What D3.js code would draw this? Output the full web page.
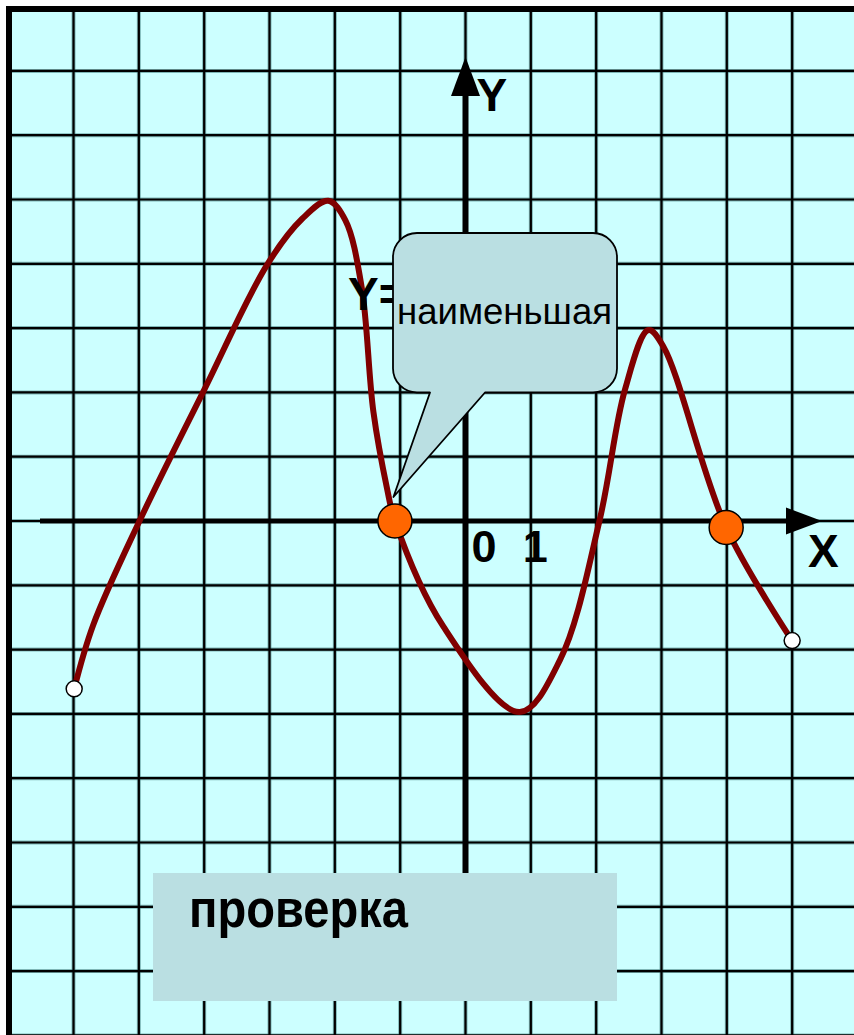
<!DOCTYPE html>
<html>
<head>
<meta charset="utf-8">
<script src="https://cdn.jsdelivr.net/npm/d3@7"></script>
<style>
  body { margin: 0; background: #fff; }
  svg { display: block; }
  text { font-family: 'Liberation Sans', Arial, sans-serif; }
</style>
</head>
<body>
<div id="chart"></div>
<script>
// curve (grid units)
const curveX = [-5.99, -5.7, -4.99, -4.0, -3.04, -2.5, -2.10, -1.84, -1.59, -1.41, -1.2, -1.08, -0.34, 0.83, 1.447, 2.05, 2.44, 2.80, 3.03, 3.99, 5.0]
const curveY = [-2.61, -1.62, 0, 2.04, 3.98, 4.7, 4.98, 4.68, 3.64, 1.7, 0.5, 0, -1.64, -2.97, -2.16, 0, 2.04, 2.97, 2.71, -0.1, -1.86]

// zeros marked with orange dots
const rootX = [-1.08, 3.99]
const rootY = [0, -0.1]

// open end points
const endX = [-5.99, 5.0]
const endY = [-2.61, -1.86]

const tickLabels = ['0', '1']
const calloutText = 'наименьшая'
const buttonText = 'проверка'

const width = 854
const height = 1035

const svg = d3.select('#chart')
  .append('svg')
  .attr('width', width)
  .attr('height', height)

// 1 grid cell = 1 unit
const xScale = d3.scaleLinear().domain([0, 1]).range([465.5, 465.5 + 65.33])
const yScale = d3.scaleLinear().domain([0, 1]).range([521, 521 - 64.3])

svg.append('rect')
  .attr('width', width)
  .attr('height', height)
  .attr('fill', '#ccffff')

/* grid */
const grid = svg.append('g').attr('class', 'grid')
const vLines = d3.range(-7, 7)
const hLines = d3.range(-8, 9)

grid.selectAll('.vhalo')
  .data(vLines)
  .enter()
  .append('line')
  .attr('x1', d => xScale(d))
  .attr('x2', d => xScale(d))
  .attr('y1', 0)
  .attr('y2', height)
  .attr('stroke', '#3f7c7c')
  .attr('stroke-width', 4)
  .attr('opacity', 0.55)

grid.selectAll('.hhalo')
  .data(hLines)
  .enter()
  .append('line')
  .attr('x1', 0)
  .attr('x2', width)
  .attr('y1', d => yScale(d))
  .attr('y2', d => yScale(d))
  .attr('stroke', '#3f7c7c')
  .attr('stroke-width', 4)
  .attr('opacity', 0.55)

grid.selectAll('.vline')
  .data(vLines)
  .enter()
  .append('line')
  .attr('x1', d => xScale(d))
  .attr('x2', d => xScale(d))
  .attr('y1', 0)
  .attr('y2', height)
  .attr('stroke', '#000')
  .attr('stroke-width', 2.2)

grid.selectAll('.hline')
  .data(hLines)
  .enter()
  .append('line')
  .attr('x1', 0)
  .attr('x2', width)
  .attr('y1', d => yScale(d))
  .attr('y2', d => yScale(d))
  .attr('stroke', '#000')
  .attr('stroke-width', 2.2)

// white margin and frame on top and left
svg.append('rect')
  .attr('width', width)
  .attr('height', 6)
  .attr('fill', '#fff')
svg.append('rect')
  .attr('width', 6)
  .attr('height', height)
  .attr('fill', '#fff')

svg.append('path')
  .attr('d', 'M9,' + height + 'V9H' + width)
  .attr('fill', 'none')
  .attr('stroke', '#000')
  .attr('stroke-width', 6)

/* axes */
const x0 = xScale(0)
const y0 = yScale(0)

svg.append('line')
  .attr('x1', 40)
  .attr('x2', 790)
  .attr('y1', y0)
  .attr('y2', y0)
  .attr('stroke', '#000')
  .attr('stroke-width', 5)

svg.append('path')
  .attr('d', 'M786,' + (y0 - 13.5) + 'L822,' + y0 + 'L786,' + (y0 + 13.5) + 'Z')
  .attr('fill', '#000')

svg.append('line')
  .attr('x1', x0)
  .attr('x2', x0)
  .attr('y1', yScale(-5.5))
  .attr('y2', 92)
  .attr('stroke', '#000')
  .attr('stroke-width', 6)

svg.append('path')
  .attr('d', 'M' + (x0 - 14.5) + ',96L' + x0 + ',57L' + (x0 + 14.5) + ',96Z')
  .attr('fill', '#000')

svg.append('text')
  .attr('x', x0 + 11)
  .attr('y', 111)
  .attr('font-size', 46)
  .attr('font-weight', 'bold')
  .text('Y')

svg.append('text')
  .attr('x', 808)
  .attr('y', 567)
  .attr('font-size', 46)
  .attr('font-weight', 'bold')
  .text('X')

svg.selectAll('.tick-label')
  .data(tickLabels)
  .enter()
  .append('text')
  .attr('class', 'tick-label')
  .attr('x', (d, i) => i === 0 ? x0 + 6 : xScale(+d) - 8)
  .attr('y', 562)
  .attr('font-size', 45)
  .attr('font-weight', 'bold')
  .text(d => d)

/* the function */
const points = curveX.map((d, i) => [d, curveY[i]])

const line = d3.line()
  .x(d => xScale(d[0]))
  .y(d => yScale(d[1]))
  .curve(d3.curveCatmullRom.alpha(0.5))

svg.append('path')
  .datum(points)
  .attr('d', line)
  .attr('fill', 'none')
  .attr('stroke', '#800000')
  .attr('stroke-width', 6)
  .attr('stroke-linejoin', 'round')

svg.selectAll('.end')
  .data(endX)
  .enter()
  .append('circle')
  .attr('class', 'end')
  .attr('cx', d => xScale(d))
  .attr('cy', (d, i) => yScale(endY[i]))
  .attr('r', 8)
  .attr('fill', '#fff')
  .attr('stroke', '#000')
  .attr('stroke-width', 1.5)

svg.selectAll('.root')
  .data(rootX)
  .enter()
  .append('circle')
  .attr('class', 'root')
  .attr('cx', d => xScale(d))
  .attr('cy', (d, i) => yScale(rootY[i]))
  .attr('r', 17)
  .attr('fill', '#ff6600')
  .attr('stroke', '#000')
  .attr('stroke-width', 1.5)

// partly hidden "Y=" behind the callout
svg.append('text')
  .attr('x', 348)
  .attr('y', 310)
  .attr('font-size', 46)
  .attr('font-weight', 'bold')
  .text('Y=')

/* callout pointing at the first zero */
const bx0 = 393
const bx1 = 617
const by0 = 233
const by1 = 392.5
const r = 24
const tipX = xScale(rootX[0]) - 1.5
const tipY = y0 - 24

const callout = d3.path()
callout.moveTo(bx0 + r, by0)
callout.lineTo(bx1 - r, by0)
callout.arcTo(bx1, by0, bx1, by0 + r, r)
callout.lineTo(bx1, by1 - r)
callout.arcTo(bx1, by1, bx1 - r, by1, r)
callout.lineTo(485, by1)
callout.lineTo(tipX, tipY)
callout.lineTo(430, by1)
callout.lineTo(bx0 + r, by1)
callout.arcTo(bx0, by1, bx0, by1 - r, r)
callout.lineTo(bx0, by0 + r)
callout.arcTo(bx0, by0, bx0 + r, by0, r)
callout.closePath()

svg.append('path')
  .attr('d', callout.toString())
  .attr('fill', '#badfe2')
  .attr('stroke', '#000')
  .attr('stroke-width', 1.8)
  .attr('stroke-linejoin', 'round')

svg.append('text')
  .attr('x', 397)
  .attr('y', 324)
  .attr('font-size', 36)
  .attr('textLength', 215)
  .attr('lengthAdjust', 'spacingAndGlyphs')
  .text(calloutText)

/* check button */
svg.append('rect')
  .attr('x', 153)
  .attr('y', 873)
  .attr('width', 464)
  .attr('height', 128)
  .attr('fill', '#badfe2')

svg.append('text')
  .attr('x', 189)
  .attr('y', 927)
  .attr('font-size', 54)
  .attr('font-weight', 'bold')
  .attr('textLength', 219)
  .attr('lengthAdjust', 'spacingAndGlyphs')
  .text(buttonText)
</script>
</body>
</html>
